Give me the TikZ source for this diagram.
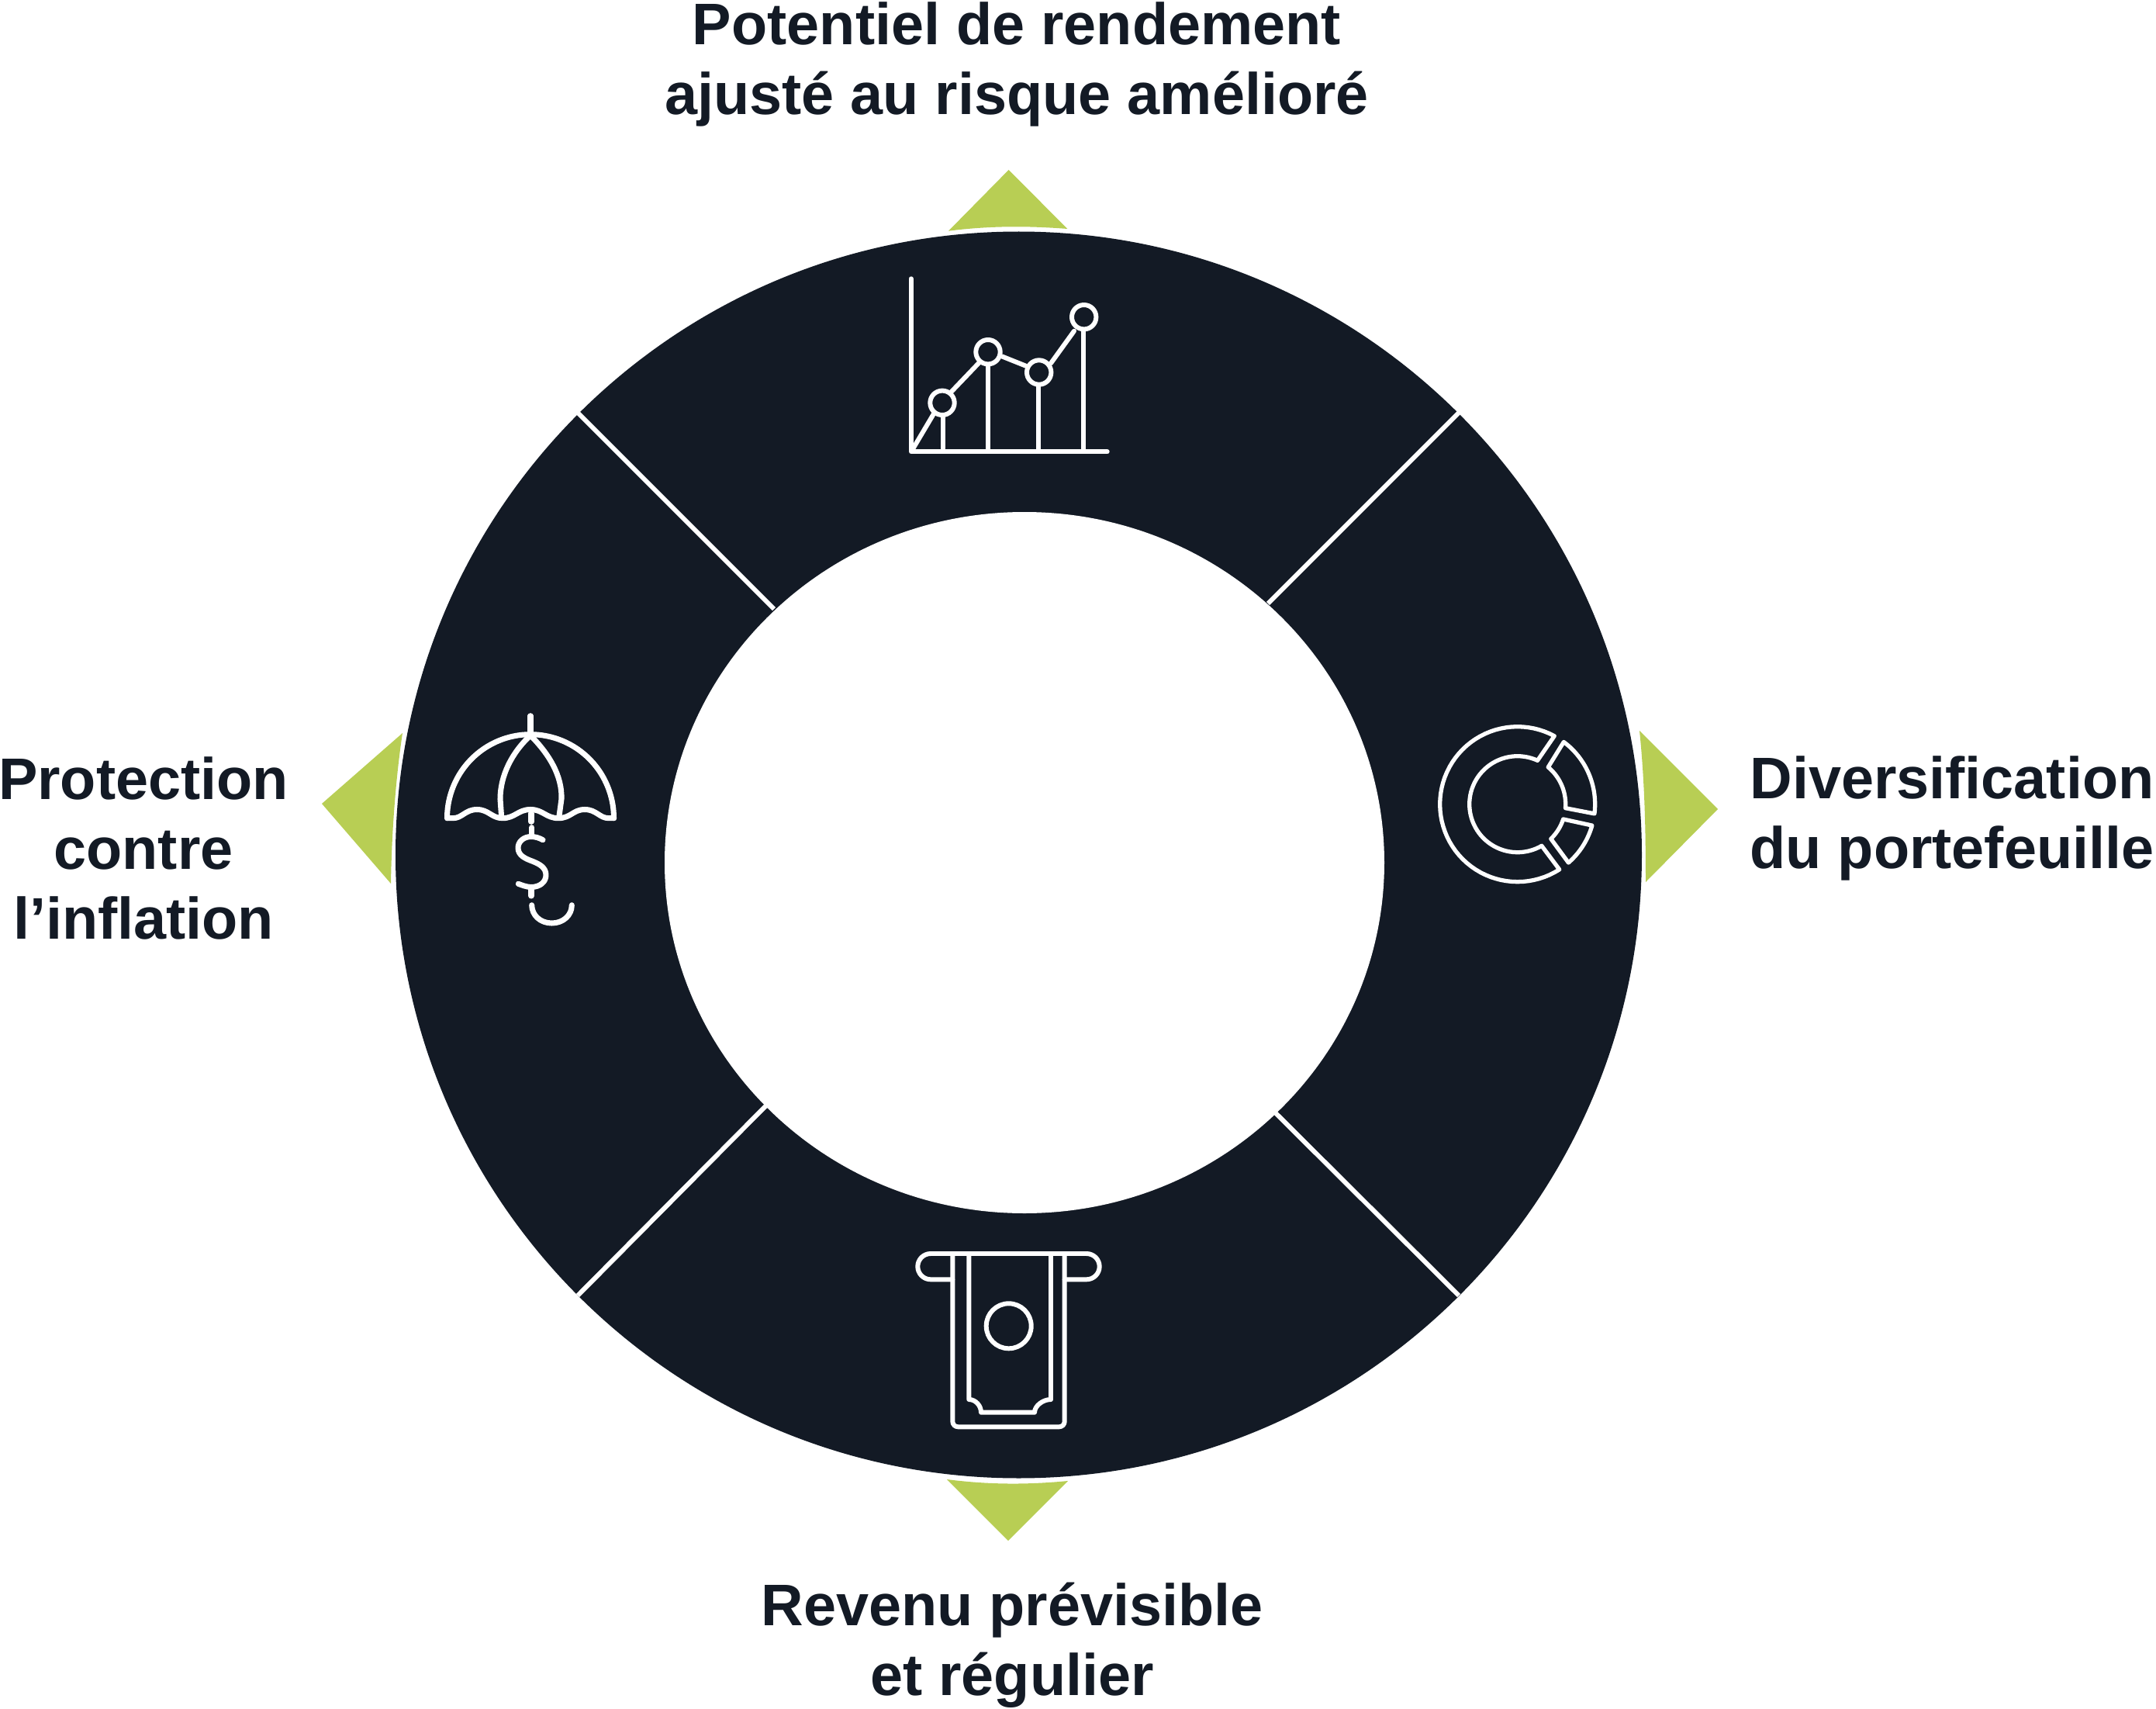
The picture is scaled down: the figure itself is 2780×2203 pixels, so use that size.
\documentclass[tikz,border=0pt]{standalone}
\usepackage{fontspec}
\usepackage{xcolor}
\setmainfont{Liberation Sans}
\definecolor{ringdark}{RGB}{19,26,37}
\definecolor{arrowgreen}{RGB}{184,206,84}
\begin{document}
\begin{tikzpicture}[x=0.01cm,y=-0.01cm,
    icon/.style={white, line width=1.7pt, line cap=round, line join=round},
    divider/.style={white, line width=1.7pt},
    lbl/.style={text=ringdark, align=center, inner sep=0pt, font=\fontsize{21.5}{25.6}\selectfont\bfseries}]
    \useasboundingbox (0,0) rectangle (2780,2203);
    \fill[arrowgreen] (1223,297.7) .. controls (1275,291) and (1325,291) .. (1376.4,295) -- (1300.6,219) -- cycle;
    \fill[arrowgreen] (2114,942) .. controls (2121,1010) and (2122,1075) .. (2122,1137) -- (2215,1043) -- cycle;
    \fill[arrowgreen] (1221,1907) .. controls (1275,1914) and (1325,1914) .. (1377,1909) -- (1300,1986) -- cycle;
    \fill[arrowgreen] (519,945) .. controls (510,1005) and (505,1075) .. (504,1139) -- (415,1036) -- cycle;
    \fill[ringdark] (1313.5,1102) circle (803.5);
    \fill[white] (1321,1112) ellipse (464 and 452);
    \draw[divider] (745,532) -- (998,785);
    \draw[divider] (1881,532) -- (1635,778);
    \draw[divider] (745,1670) -- (988,1425);
    \draw[divider] (1881,1670) -- (1644,1434);
    \draw[icon] (1174.7,359.3) -- (1174.7,582.3) -- (1427.7,582.3);
    \draw[icon] (1215,519.3) circle (15.7);
    \draw[icon] (1274,453.7) circle (15.7);
    \draw[icon] (1339.7,480) circle (15.7);
    \draw[icon] (1397.7,408.7) circle (15.7);
    \draw[icon] (1215.7,536) -- (1215.7,578);
    \draw[icon] (1274,470) -- (1274,582);
    \draw[icon] (1338.7,497) -- (1338.7,582);
    \draw[icon] (1397.3,426) -- (1397.3,582);
    \draw[icon] (1177.3,578.3) -- (1204,533.3);
    \draw[icon] (1226.7,505) -- (1263.3,466.7);
    \draw[icon] (1291.7,459.3) -- (1322.7,471.7);
    \draw[icon] (1355,468.3) -- (1385,426.7);
    \draw[icon, line width=1.5pt] plot[domain=298.4:57.3,samples=60] ({1956.7+100*cos(\x)},{1036.7+100*sin(\x)}) -- plot[domain=59.8:294.6,samples=60] ({1956.7+62*cos(\x)},{1036.7+62*sin(\x)}) -- cycle;
    \draw[icon, line width=1.5pt] plot[domain=-53.4:7,samples=30] ({1956.7+100*cos(\x)},{1036.7+100*sin(\x)}) -- plot[domain=4.6:-50.4,samples=30] ({1956.7+62*cos(\x)},{1036.7+62*sin(\x)}) -- cycle;
    \draw[icon, line width=1.5pt] plot[domain=15.9:48.9,samples=20] ({1956.7+100*cos(\x)},{1036.7+100*sin(\x)}) -- plot[domain=46:18.1,samples=20] ({1956.7+62*cos(\x)},{1036.7+62*sin(\x)}) -- cycle;
    \draw[icon] (1228.3,1649.3) -- (1200,1649.3) .. controls (1190.8,1649.3) and (1183.3,1641.8) .. (1183.3,1632.6) .. controls (1183.3,1623.5) and (1190.8,1616) .. (1200,1616) -- (1401,1616) .. controls (1410.2,1616) and (1417.7,1623.5) .. (1417.7,1632.6) .. controls (1417.7,1641.8) and (1410.2,1649.3) .. (1401,1649.3) -- (1372.7,1649.3);
    \draw[icon, rounded corners=0.07cm] (1228.3,1616) -- (1228.3,1839.3) -- (1372.7,1839.3) -- (1372.7,1616);
    \draw[icon] (1249.3,1616) -- (1249.3,1804) .. controls (1258,1804) and (1265,1812) .. (1265,1820.7) -- (1334,1820.7) .. controls (1334,1812) and (1345,1804) .. (1355,1804) -- (1355,1616);
    \draw[icon] (1300.7,1709.3) circle (29);
    \draw[icon, line width=2pt] (684,922.7) -- (684,943.3);
    \draw[icon, line width=2pt] plot[domain=180:360,samples=80] ({684+107.5*cos(\x)},{1054.7+108*sin(\x)});
    \draw[icon, line width=2pt] (576.7,1054.7) -- (584,1054.7) .. controls (596,1054.7) and (600,1043.5) .. (615,1043.5) .. controls (630,1043.5) and (634,1054.7) .. (648,1054.7) .. controls (664,1054.7) and (668,1043.5) .. (684,1043.5) .. controls (700,1043.5) and (704,1054.7) .. (720,1054.7) .. controls (736,1054.7) and (739,1043.5) .. (754,1043.5) .. controls (769,1043.5) and (773,1054.7) .. (785,1054.7) -- (791.7,1054.7);
    \draw[icon, line width=2pt] (684,948) .. controls (660,970) and (645,1000) .. (645,1030) -- (646.7,1054);
    \draw[icon, line width=2pt] (684,948) .. controls (708,972) and (725,1000) .. (724,1030) -- (720.7,1054);
    \draw[icon, line width=2pt] (685,1048.3) -- (685,1059.3);
    \draw[icon, line width=2pt] (685.7,1066.7) -- (685.7,1075);
    \draw[icon, line width=2pt] (700,1082.7) .. controls (695,1080) and (690,1078.5) .. (685,1078.5) .. controls (675,1078.5) and (668,1085) .. (668,1093) .. controls (668,1103) and (678,1107) .. (686,1110) .. controls (695,1113.5) and (704,1118) .. (704,1128) .. controls (704,1137) and (696,1143.5) .. (685,1143.5) .. controls (679,1143.5) and (673,1141) .. (668.3,1139.3);
    \draw[icon, line width=2pt] (685,1146.7) -- (685,1155);
    \draw[icon, line width=2pt] (685.7,1166.7) .. controls (685.7,1180) and (697,1190) .. (711.5,1190) .. controls (726,1190) and (737.3,1180) .. (737.3,1166.7);
    \node[lbl] (lblrendement) at (1311,83) {Potentiel de rendement\\ajusté au risque amélioré};
    \node[lbl] (lbldiversif) at (2517,1055) {Diversification\\du portefeuille};
    \node[lbl] (lblrevenu) at (1305,2121) {Revenu prévisible\\et régulier};
    \node[lbl] (lblinflation) at (185,1093) {Protection\\contre\\l’inflation};
\end{tikzpicture}
\end{document}
